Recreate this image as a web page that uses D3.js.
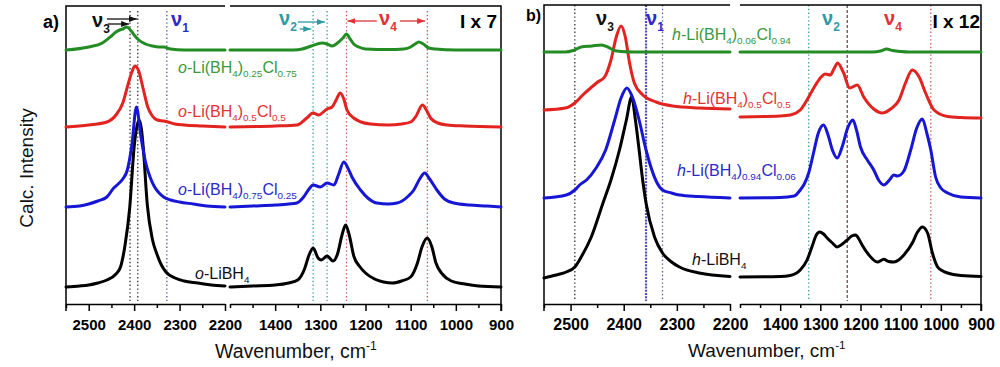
<!DOCTYPE html>
<html>
<head>
<meta charset="utf-8">
<title>Calc. IR spectra</title>
<script src="https://cdnjs.cloudflare.com/ajax/libs/d3/7.8.5/d3.min.js"></script>
<style>
  body { margin: 0; background: #fff; }
  svg { font-family: 'Liberation Sans', Arial, sans-serif; }
  .axis path, .axis line { stroke: #000; stroke-width: 1.5; }
  .axis text { font-weight: bold; fill: #000; }
  .axA text { font-size: 15px; }
  .axB text { font-size: 16px; }
  .spec { fill: none; stroke-width: 3; stroke-linejoin: round; stroke-linecap: round; }
  .frame { stroke: #000; stroke-width: 1.5; fill: none; }
</style>
</head>
<body>
<svg id="chart" width="1000" height="367"></svg>
<script>
// ---- data: [wavenumber cm-1, calc. intensity above own baseline] ----
// panel a (orthorhombic), left part 2550-2200, right part 1500-900
const aBlackL = [[2550,0],[2520,1],[2500,2],[2480,4],[2460,7],[2440,13],[2430,20],[2420,42],[2410,78],[2400,140],[2395,158],[2389,167],[2384,158],[2380,140],[2371,82],[2360,48],[2350,33],[2340,22],[2330,15],[2310,9],[2290,6],[2260,4],[2230,2],[2200,1]];
const aBlackR = [[1500,0],[1450,1],[1400,2],[1370,4],[1350,7],[1335,18],[1325,32],[1316,39],[1305,29],[1298,27],[1285,31],[1272,26],[1262,33],[1252,52],[1244,62],[1236,52],[1226,31],[1212,20],[1200,14],[1180,8],[1160,5],[1140,4],[1120,6],[1100,10],[1085,24],[1075,40],[1063,49],[1053,40],[1044,24],[1030,13],[1010,6],[980,3],[950,1],[900,0]];
const aBlueL = [[2550,0],[2520,1],[2500,3],[2480,6],[2460,10],[2445,19],[2435,23],[2425,28],[2415,37],[2405,62],[2395,100],[2385,70],[2375,45],[2365,30],[2355,20],[2345,14],[2335,10],[2320,7],[2300,5],[2270,3],[2240,1],[2200,0]];
const aBlueR = [[1500,0],[1450,1],[1400,2],[1370,3],[1352,4],[1337,10],[1325,18],[1316,22],[1300,20],[1285,24],[1270,22],[1260,32],[1248,45],[1238,38],[1230,30],[1211,17],[1195,9],[1175,4],[1150,3],[1130,4],[1119,6],[1105,11],[1093,17],[1080,28],[1069,34],[1058,28],[1042,17],[1025,8],[1004,4],[970,2],[930,1],[900,0]];
const aRedL = [[2550,0],[2500,2],[2460,5],[2440,12],[2425,24],[2415,40],[2405,55],[2398,61],[2390,56],[2380,38],[2370,20],[2360,11],[2349,7],[2335,6],[2326,5],[2310,3],[2290,2],[2250,1],[2200,0]];
const aRedR = [[1500,0],[1400,1],[1352,2],[1330,9],[1316,14],[1304,12],[1285,18],[1274,20],[1265,27],[1256,34],[1248,28],[1241,17],[1226,9],[1210,5],[1189,3],[1150,2],[1120,3],[1100,5],[1088,11],[1074,22],[1064,16],[1056,9],[1040,4],[1019,2],[980,1],[900,0]];
const aGreenL = [[2550,0],[2500,3],[2470,7],[2450,14],[2440,18],[2432,20],[2425,21],[2417,23],[2410,21],[2400,15],[2390,10],[2375,6],[2360,4],[2345,3],[2335,3],[2320,1],[2290,0],[2200,0]];
const aGreenR = [[1500,0],[1360,0],[1340,1],[1320,4],[1296,7],[1285,6],[1274,4],[1262,7],[1250,12],[1242,16],[1234,11],[1226,6],[1215,3],[1200,1],[1150,0.5],[1115,1],[1100,3],[1090,6],[1082,8],[1072,6],[1060,2],[1045,1],[1000,0],[900,0]];

// panel b (hexagonal)
const bBlackL = [[2550,0],[2527,3],[2508,6],[2492,11],[2480,21],[2461,41],[2439,75],[2424,98],[2408,128],[2395,158],[2385,181],[2378,158],[2371,128],[2366,105],[2358,75],[2342,41],[2327,25],[2310,16],[2295,11],[2258,5],[2200,1.5]];
const bBlackR = [[1500,0],[1400,0.5],[1375,1.5],[1350,7],[1333,17],[1321,30],[1310,42],[1302,45],[1292,43],[1283,39],[1270,34],[1258,30],[1245,33],[1233,37],[1222,41],[1212,42],[1204,38],[1196,32],[1179,22],[1158,15],[1142,17.7],[1130,15.5],[1117,15],[1105,17],[1092,22],[1071,34],[1058,45],[1046,50],[1033,44],[1021,24],[1008,10],[995,6],[983,4],[950,1.5],[900,0.5]];
const bBlueL = [[2550,0],[2508,3],[2492,8],[2483,13],[2470,18],[2452,30],[2434,48],[2417,78],[2405,100],[2394,110],[2383,100],[2371,78],[2358,48],[2339,17],[2327,8],[2310,5],[2295,3],[2260,1.5],[2200,0]];
const bBlueR = [[1500,0],[1400,0.5],[1365,2],[1350,8],[1340,14],[1329,25],[1317,45],[1305,65],[1292,73],[1280,62],[1270,48],[1258,40],[1245,52],[1232,70],[1219,78],[1210,68],[1200,51],[1183,38],[1167,28],[1155,18],[1142,13],[1128,18],[1117,23],[1108,22],[1092,27],[1075,48],[1060,70],[1046,79],[1035,65],[1025,48],[1013,21],[1000,10],[983,5],[950,1],[900,0]];
const bRedL = [[2550,0],[2510,2],[2492,7],[2477,15],[2458,24],[2449,28],[2436,33],[2424,50],[2414,73],[2405,84],[2397,73],[2389,47],[2380,27],[2364,15],[2339,8],[2308,4],[2258,2],[2200,1]];
const bRedR = [[1500,1],[1400,2],[1375,3],[1350,8],[1329,21],[1312,33],[1298,41],[1288,44],[1275,43],[1265,50],[1257,55],[1242,45],[1227,30],[1208,33],[1192,21],[1167,9],[1146,5],[1125,9],[1104,18],[1088,35],[1071,48],[1054,41],[1038,25],[1017,8],[983,1.5],[950,0.5],[900,0]];
const bGreenL = [[2550,0],[2510,0],[2495,1.5],[2480,5],[2460,6],[2442,7],[2430,5],[2418,1.5],[2405,0.5],[2380,0],[2200,0]];
const bGreenR = [[1500,0],[1170,0],[1150,1],[1135,3],[1120,1.5],[1100,0.5],[1080,0],[900,0]];

// baselines (stack offsets) of each trace, [left part, right part]
const offsetsA = [[17,17],[97,97],[177,177],[254,254]];
const offsetsB = [[26,27],[106,106],[194,186],[252,252]];

const namesA = ['o-LiBH4','o-Li(BH4)0.75Cl0.25','o-Li(BH4)0.5Cl0.5','o-Li(BH4)0.25Cl0.75'];
const namesB = ['h-LiBH4','h-Li(BH4)0.94Cl0.06','h-Li(BH4)0.5Cl0.5','h-Li(BH4)0.06Cl0.94'];

// reference band positions (dotted lines)
const bandsA = [[2409,'n3'],[2392,'n3'],[2328,'n1'],[1316,'n2'],[1285,'n2'],[1242,'n4'],[1063,'n4']];
const bandsB = [[2492,'n3'],[2358,'n1b'],[2327,'n1'],[1329,'n2'],[1233,'nx'],[1025,'n4']];

const ticksLeft = [2500,2400,2300,2200];
const minorLeft = [2550,2450,2350,2250];
const ticksRight = [1400,1300,1200,1100,1000,900];
const minorRight = [1500,1450,1350,1250,1150,1050,950];

// ---- drawing ----
const colors = ['#000000','#1616d4','#e2231f','#248c24'];
const labelColors = ['#111111','#2a2ac8','#e03434','#3a993a'];
const bandColor = {n3:'#333333', n1:'#5a5aa6', n1b:'#5050b0', n2:'#44a0a0', n4:'#cc5555', nx:'#6e5050'};

const svg = d3.select('#chart');
const y = d3.scaleLinear().domain([0, 300]).range([304, 4]);

const panels = [
  { cls: 'axA', xl: d3.scaleLinear().domain([2550,2200]).range([66,225]),
    xr: d3.scaleLinear().domain([1500,900]).range([230,501]),
    data: [[aBlackL,aBlackR],[aBlueL,aBlueR],[aRedL,aRedR],[aGreenL,aGreenR]],
    offs: offsetsA, bands: bandsA, bandTop: 11, top: 6 },
  { cls: 'axB', xl: d3.scaleLinear().domain([2550,2200]).range([544,730]),
    xr: d3.scaleLinear().domain([1500,900]).range([740,981]),
    data: [[bBlackL,bBlackR],[bBlueL,bBlueR],[bRedL,bRedR],[bGreenL,bGreenR]],
    offs: offsetsB, bands: bandsB, bandTop: 5, top: 5 }
];

function xOf(p, w) { return w >= 2200 ? p.xl(w) : p.xr(w); }

panels.forEach(p => {
  const g = svg.append('g');
  const l0 = p.xl.range()[0], l1 = p.xl.range()[1], r0 = p.xr.range()[0], r1 = p.xr.range()[1];

  // dotted band markers
  g.selectAll('line.band')
    .data(p.bands)
    .join('line')
    .attr('x1', d => xOf(p, d[0])).attr('x2', d => xOf(p, d[0]))
    .attr('y1', p.bandTop).attr('y2', 301)
    .attr('stroke', d => bandColor[d[1]])
    .attr('stroke-width', d => d[1] === 'n1b' ? 2.2 : 1.3)
    .attr('stroke-dasharray', d => d[1] === 'n1b' ? '2,1.2' : (d[1] === 'nx' ? '3,2' : '1.4,2.4'));

  // frame
  g.append('path').attr('class', 'frame')
    .attr('d', `M${l0},311V${p.top}H${l1}M${r0},${p.top}H${r1}V311`);

  // axes
  [[p.xl, ticksLeft, minorLeft], [p.xr, ticksRight, minorRight]].forEach(([xs, maj, mnr]) => {
    g.append('g').attr('class', 'axis ' + p.cls)
      .attr('transform', 'translate(0,304)')
      .call(d3.axisBottom(xs).tickValues(maj).tickSize(7).tickPadding(8).tickSizeOuter(0).tickFormat(d3.format('d')))
      .attr('font-family', null).attr('font-size', null);
    g.append('g').attr('class', 'axis')
      .attr('transform', 'translate(0,304)')
      .call(d3.axisBottom(xs).tickValues(mnr).tickSize(4).tickFormat(''))
      .call(a => a.select('.domain').remove());
  });

  // spectra
  p.data.forEach((pair, i) => {
    [p.xl, p.xr].forEach((xs, k) => {
      const off = p.offs[i][k];
      const line = d3.line()
        .x(d => xs(d[0]))
        .y(d => y(d[1] + off))
        .curve(d3.curveMonotoneX);
      g.append('path').attr('class', 'spec')
        .attr('stroke', colors[i])
        .attr('d', line(pair[k]));
    });
  });
});

// chemical labels: numbers become subscripts, leading phase letter italic
function chem(x, yb, name, color, size) {
  const t = svg.append('text').attr('x', x).attr('y', yb)
    .attr('fill', color).attr('font-size', size);
  t.append('tspan').attr('font-style', 'italic').text(name[0]);
  const parts = name.slice(1).split(/(\d+(?:\.\d+)?)/);
  let sub = false;
  parts.forEach((s, i) => {
    if (!s) return;
    const isSub = i % 2 === 1;
    const ts = t.append('tspan').text(s);
    if (isSub) { ts.attr('font-size', size * 0.62); if (!sub) ts.attr('dy', 4); sub = true; }
    else if (sub) { ts.attr('dy', -4); sub = false; }
  });
}
const labPosA = [[195,279],[178,195],[178,117],[178,73]];
const labPosB = [[692,265],[677,176],[683,104],[672,40]];
namesA.forEach((n, i) => chem(labPosA[i][0], labPosA[i][1], n, labelColors[i], 16));
namesB.forEach((n, i) => chem(labPosB[i][0], labPosB[i][1], n, labelColors[i], 16));

// nu labels
function nu(x, yb, k, color) {
  const t = svg.append('text').attr('x', x).attr('y', yb).attr('fill', color)
    .attr('font-size', 20).attr('font-weight', 'bold');
  t.append('tspan').text('\u03bd');
  t.append('tspan').attr('font-size', 12).attr('dy', 6).text(k);
}
const pa = panels[0], pb = panels[1];
nu(92, 27, '3', '#111');
nu(171, 26, '1', '#2a2ac8');
nu(279, 25, '2', '#2f9aa6');
nu(379, 25, '4', '#e03434');
nu(596, 25, '3', '#111');
nu(646, 25, '1', '#2a2ac8');
nu(822, 25, '2', '#2f9aa6');
nu(884, 25, '4', '#e03434');

// arrows to band positions
const defs = svg.append('defs');
[['k','#111'],['t','#2f9aa6'],['r','#e03434']].forEach(([id, c]) => {
  defs.append('marker').attr('id', 'ah' + id).attr('viewBox', '0 0 8 6')
    .attr('refX', 8).attr('refY', 3).attr('markerWidth', 8).attr('markerHeight', 6)
    .attr('markerUnits', 'userSpaceOnUse').attr('orient', 'auto')
    .append('path').attr('d', 'M0,0L8,3L0,6z').attr('fill', c);
});
const arrows = [
  [pa.xl, 2460, 2394, 19, 'k', '#111'], [pa.xl, 2458, 2411, 24, 'k', '#111'],
  [pa.xr, 1350, 1290, 22, 't', '#2f9aa6'], [pa.xr, 1346, 1320, 29, 't', '#2f9aa6'],
  [pa.xr, 1175, 1240, 21, 'r', '#e03434'], [pa.xr, 1124, 1068, 21, 'r', '#e03434']
];
arrows.forEach(([xs, w0, w1, yy, id, c]) => {
  svg.append('line').attr('x1', xs(w0)).attr('x2', xs(w1)).attr('y1', yy).attr('y2', yy)
    .attr('stroke', c).attr('stroke-width', 1.3).attr('marker-end', `url(#ah${id})`);
});

// panel tags and scale factors
svg.append('text').attr('x', 43).attr('y', 28).attr('font-size', 18).attr('font-weight', 'bold').text('a)');
svg.append('text').attr('x', 526).attr('y', 21).attr('font-size', 16).attr('font-weight', 'bold').text('b)');
svg.append('text').attr('x', 497).attr('y', 28).attr('text-anchor', 'end').attr('font-size', 19).attr('font-weight', 'bold').text('I x 7');
svg.append('text').attr('x', 980).attr('y', 28).attr('text-anchor', 'end').attr('font-size', 19).attr('font-weight', 'bold').text('I x 12');

// axis titles
function xTitle(x, yb, size) {
  const t = svg.append('text').attr('x', x).attr('y', yb).attr('font-size', size).attr('fill', '#111');
  t.append('tspan').text('Wavenumber, cm');
  t.append('tspan').attr('font-size', size * 0.62).attr('dy', -8).text('-1');
}
xTitle(215, 358, 19.5);
xTitle(688, 357, 19);
svg.append('text').attr('transform', 'translate(33,168) rotate(-90)')
  .attr('text-anchor', 'middle').attr('font-size', 19).attr('fill', '#111').text('Calc. Intensity');
</script>
</body>
</html>
